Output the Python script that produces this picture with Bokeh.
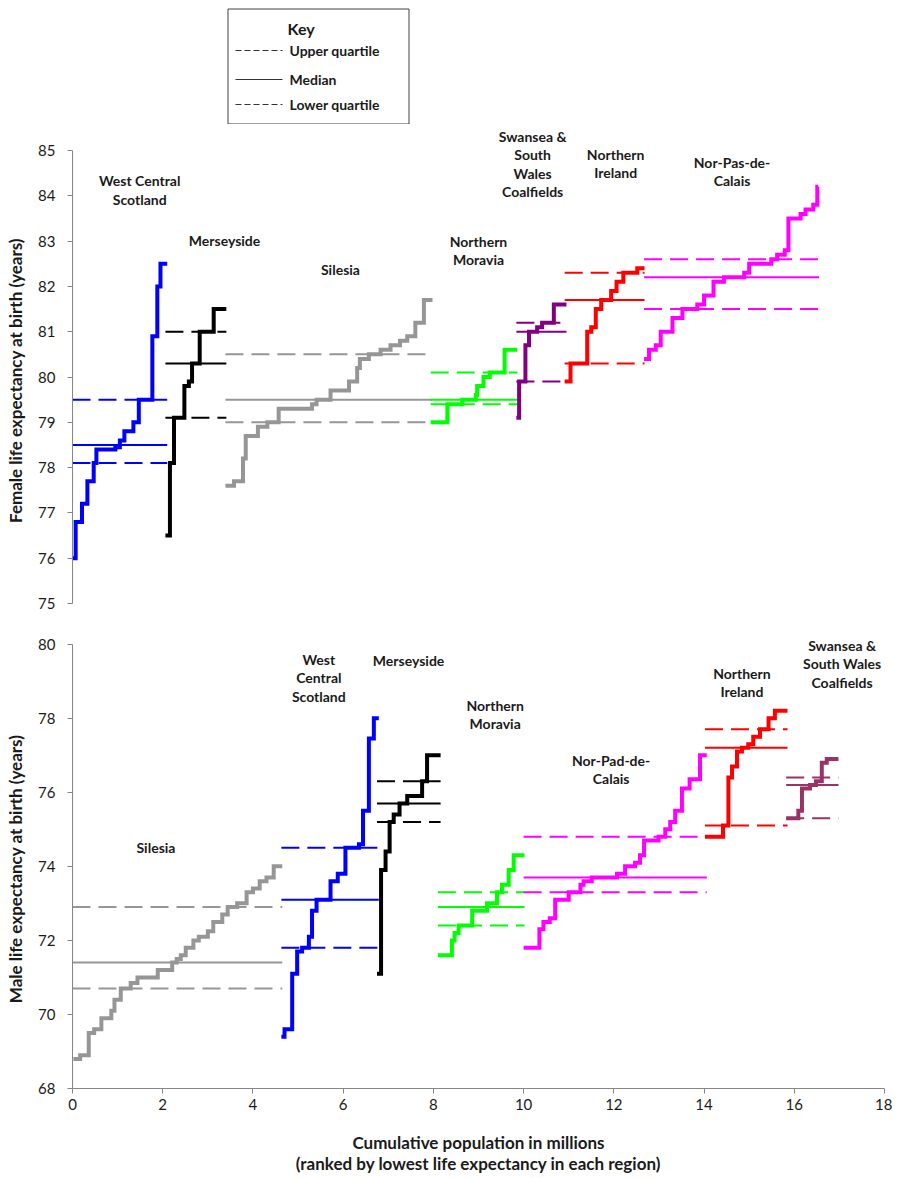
from bokeh.plotting import figure
from bokeh.models import Range1d, FixedTicker, Label
from bokeh.layouts import column
from bokeh.embed import file_html
from bokeh.resources import INLINE
from bokeh.core.properties import value

FONT = "Lato"

# ---------------- Female (top panel) data ----------------
# x: cumulative population (millions) at each step start + final end; le: life expectancy
F_WCS_X = [0.0, 0.07, 0.21, 0.33, 0.47, 0.53, 0.95, 1.05, 1.15, 1.35, 1.47, 1.77, 1.88, 1.95, 2.10]
F_WCS_LE = [76.0, 76.8, 77.2, 77.7, 78.1, 78.4, 78.45, 78.6, 78.8, 79.0, 79.5, 80.9, 82.0, 82.5]
F_MER_X = [2.06, 2.16, 2.25, 2.48, 2.58, 2.65, 2.82, 3.13, 3.41]
F_MER_LE = [76.5, 78.1, 79.1, 79.8, 79.9, 80.3, 81.0, 81.5]
F_SIL_X = [3.39, 3.58, 3.78, 3.84, 4.11, 4.32, 4.57, 5.31, 5.41, 5.72, 6.13, 6.31, 6.37, 6.57, 6.83,
           7.05, 7.26, 7.42, 7.60, 7.79, 7.98]
F_SIL_LE = [77.6, 77.7, 78.2, 78.7, 78.9, 79.0, 79.3, 79.4, 79.5, 79.7, 79.9, 80.2, 80.4, 80.5, 80.6,
            80.7, 80.8, 80.9, 81.2, 81.7]
F_NMO_X = [7.94, 8.31, 8.64, 8.94, 8.97, 9.11, 9.25, 9.58, 9.86]
F_NMO_LE = [79.0, 79.4, 79.5, 79.6, 79.8, 80.0, 80.1, 80.6]
F_SWA_X = [9.84, 9.90, 10.04, 10.12, 10.30, 10.41, 10.67, 10.95]
F_SWA_LE = [79.1, 79.9, 80.7, 81.0, 81.1, 81.2, 81.6]
F_NIR_X = [10.91, 11.04, 11.41, 11.50, 11.60, 11.72, 11.94, 12.06, 12.21, 12.52, 12.68]
F_NIR_LE = [79.9, 80.3, 81.0, 81.1, 81.5, 81.7, 81.9, 82.1, 82.3, 82.4]
F_NPC_X = [12.67, 12.78, 12.93, 13.04, 13.30, 13.52, 13.85, 14.00, 14.21, 14.44, 14.89, 15.00, 15.49,
           15.62, 15.79, 15.87, 16.14, 16.25, 16.42, 16.51, 16.53]
F_NPC_LE = [80.4, 80.6, 80.7, 81.0, 81.3, 81.5, 81.6, 81.8, 82.1, 82.2, 82.3, 82.5, 82.6, 82.7, 82.8,
            83.5, 83.6, 83.7, 83.8, 84.2]

# quartiles per female region: WCS, MER, SIL, NMO, SWA, NIR, NPC
F_Q_START = [0.0, 2.06, 3.39, 7.94, 9.84, 10.91, 12.67]
F_Q_END = [2.10, 3.41, 7.98, 9.86, 10.95, 12.68, 16.55]
F_UPPER = [79.5, 81.0, 80.5, 80.1, 81.2, 82.3, 82.6]
F_MEDIAN = [78.5, 80.3, 79.5, 79.5, 81.0, 81.7, 82.2]
F_LOWER = [78.1, 79.1, 79.0, 79.4, 79.9, 80.3, 81.5]
F_COLORS = ["#0000FF", "#000000", "#969696", "#00FF00", "#800080", "#FF0000", "#FF00FF"]

F_LABELS = ["West Central\nScotland", "Merseyside", "Silesia", "Northern\nMoravia",
            "Swansea &\nSouth\nWales\nCoalfields", "Northern\nIreland", "Nor-Pas-de-\nCalais"]
F_LABEL_X = [1.49, 3.37, 5.94, 9.0, 10.2, 12.04, 14.62]
F_LABEL_Y = [84.13, 83.01, 82.37, 82.79, 84.70, 84.72, 84.53]

# ---------------- Male (bottom panel) data ----------------
M_SIL_X = [0.02, 0.17, 0.36, 0.48, 0.64, 0.86, 0.93, 1.07, 1.29, 1.44, 1.89, 2.21, 2.31, 2.40, 2.51,
           2.68, 2.80, 3.00, 3.12, 3.32, 3.44, 3.65, 3.86, 4.00, 4.15, 4.30, 4.46, 4.65]
M_SIL_LE = [68.8, 68.9, 69.5, 69.6, 69.9, 70.1, 70.4, 70.7, 70.85, 71.0, 71.2, 71.4, 71.5, 71.6, 71.8,
            72.0, 72.1, 72.25, 72.5, 72.7, 72.9, 73.0, 73.3, 73.4, 73.6, 73.7, 74.0]
M_WCS_X = [4.63, 4.70, 4.87, 4.98, 5.09, 5.24, 5.31, 5.41, 5.72, 5.88, 6.05, 6.35, 6.44, 6.57, 6.68, 6.79]
M_WCS_LE = [69.4, 69.6, 71.1, 71.7, 71.8, 72.1, 72.8, 73.1, 73.6, 73.8, 74.5, 74.6, 75.5, 77.45, 78.0]
M_MER_X = [6.75, 6.84, 6.94, 7.03, 7.12, 7.25, 7.42, 7.75, 7.86, 8.16]
M_MER_LE = [71.1, 73.9, 74.4, 75.2, 75.4, 75.7, 75.9, 76.3, 77.0]
M_NMO_X = [8.10, 8.41, 8.47, 8.56, 8.86, 9.19, 9.41, 9.52, 9.67, 9.78, 10.02]
M_NMO_LE = [71.6, 72.0, 72.2, 72.4, 72.8, 73.0, 73.3, 73.5, 73.9, 74.3]
M_NPC_X = [10.00, 10.35, 10.44, 10.58, 10.70, 11.00, 11.26, 11.33, 11.51, 12.07, 12.25, 12.47, 12.58,
           12.67, 12.99, 13.14, 13.25, 13.36, 13.51, 13.68, 13.91, 14.06]
M_NPC_LE = [71.8, 72.3, 72.5, 72.6, 73.1, 73.3, 73.5, 73.6, 73.7, 73.8, 74.0, 74.1, 74.3, 74.7, 74.8,
            75.0, 75.2, 75.5, 76.1, 76.35, 77.0]
M_NIR_X = [14.02, 14.42, 14.54, 14.62, 14.73, 14.84, 14.98, 15.09, 15.24, 15.43, 15.57, 15.85]
M_NIR_LE = [74.8, 75.1, 76.4, 76.7, 77.1, 77.2, 77.3, 77.5, 77.7, 78.0, 78.2]
M_SWA_X = [15.82, 16.09, 16.17, 16.35, 16.48, 16.61, 16.72, 16.98]
M_SWA_LE = [75.3, 75.5, 76.1, 76.2, 76.3, 76.8, 76.9]

# quartiles per male region: SIL, WCS, MER, NMO, NPC, NIR, SWA
M_Q_START = [0.0, 4.63, 6.75, 8.10, 10.00, 14.02, 15.82]
M_Q_END = [4.65, 6.79, 8.16, 10.02, 14.06, 15.85, 16.98]
M_UPPER = [72.9, 74.5, 76.3, 73.3, 74.8, 77.7, 76.4]
M_MEDIAN = [71.4, 73.1, 75.7, 72.9, 73.7, 77.2, 76.2]
M_LOWER = [70.7, 71.8, 75.2, 72.4, 73.3, 75.1, 75.3]
M_COLORS = ["#969696", "#0000FF", "#000000", "#00FF00", "#FF00FF", "#FF0000", "#993366"]

M_LABELS = ["Silesia", "West\nCentral\nScotland", "Merseyside", "Northern\nMoravia",
            "Nor-Pad-de-\nCalais", "Northern\nIreland", "Swansea &\nSouth Wales\nCoalfields"]
M_LABEL_X = [1.85, 5.46, 7.45, 9.37, 11.94, 14.84, 17.06]
M_LABEL_Y = [74.5, 79.09, 79.55, 78.1, 76.62, 78.97, 79.47]

F_YTICKS = [75, 76, 77, 78, 79, 80, 81, 82, 83, 84, 85]
M_YTICKS = [68, 70, 72, 74, 76, 78, 80]
XTICKS = [0, 2, 4, 6, 8, 10, 12, 14, 16, 18]

KEY_ITEMS = ["Upper quartile", "Median", "Lower quartile"]
KEY_DASH = ["6 3", "solid", "6 3"]

DASH = "18 8"
AXIS_GREY = "#868686"
TEXT_COL = "#1a1a1a"
W = 892
NB = "\u00a0"


def style_axis(ax, label):
    ax.axis_label = label
    ax.axis_label_text_font = FONT
    ax.axis_label_text_font_style = "bold"
    ax.axis_label_text_font_size = "17px"
    ax.axis_label_text_color = TEXT_COL
    ax.axis_label_text_line_height = 1.0
    ax.major_label_text_font = FONT
    ax.major_label_text_font_size = "15px"
    ax.major_label_text_color = TEXT_COL
    ax.axis_line_color = AXIS_GREY
    ax.major_tick_line_color = AXIS_GREY
    ax.major_tick_out = 5
    ax.major_tick_in = 0
    ax.minor_tick_line_color = None


def draw_panel(p, series, qs, qe, up, med, low, colors, labels, lx, ly):
    for i, c in enumerate(colors):
        p.segment(x0=[qs[i], qs[i]], y0=[up[i], low[i]], x1=[qe[i], qe[i]], y1=[up[i], low[i]],
                  line_color=c, line_width=2, line_dash=DASH)
        p.segment(x0=[qs[i]], y0=[med[i]], x1=[qe[i]], y1=[med[i]], line_color=c, line_width=2)
    for (xs, les), c in zip(series, colors):
        p.step(xs, les + [les[-1]], mode="after", line_width=4, line_color=c, line_join="miter")
    for t, x, y in zip(labels, lx, ly):
        p.add_layout(Label(x=x, y=y, text=t, text_align="center", text_baseline="middle",
                           text_font=FONT, text_font_style="bold", text_font_size="14px",
                           text_color=TEXT_COL, text_line_height=1.07))


# ---------------- Key figure (frame aligned with panels: 72..884 px) ----------------
kf = figure(width=W, height=124, x_range=Range1d(72, 884), y_range=Range1d(124, 0),
            x_axis_location=None, y_axis_location=None, toolbar_location=None,
            output_backend="svg", min_border=0)
kf.outline_line_color = None
kf.grid.visible = False
kf.quad(left=[227.5], right=[408.5], top=[8.5], bottom=[123.5], fill_color=None,
        line_color="#404040", line_width=1)
kf.text(x=[287], y=[28], text=["Key"], text_font=value(FONT), text_font_style="bold",
        text_font_size="16px", text_baseline="middle", text_color=TEXT_COL)
key_y = [50, 79, 104]
for t, yy, d in zip(KEY_ITEMS, key_y, KEY_DASH):
    kf.line(x=[235, 282], y=[yy, yy], line_color="#333333", line_width=1, line_dash=d)
    kf.text(x=[289], y=[yy], text=[t], text_font=value(FONT), text_font_style="bold",
            text_font_size="14px", text_baseline="middle", text_color=TEXT_COL)

# ---------------- Female figure ----------------
pf = figure(width=W, height=496, x_range=Range1d(0, 18), y_range=Range1d(75, 85.574),
            x_axis_location=None, toolbar_location=None, output_backend="svg",
            min_border_left=72, min_border_right=8, min_border_top=0, min_border_bottom=17)
pf.outline_line_color = None
pf.grid.visible = False
pf.yaxis.ticker = FixedTicker(ticks=F_YTICKS)
pf.yaxis.bounds = (75, 85)
style_axis(pf.yaxis[0], "Female life expectancy at birth (years)" + NB * 8)
pf.yaxis.major_label_standoff = 12
pf.yaxis.axis_label_standoff = 9
draw_panel(pf,
           [(F_WCS_X, F_WCS_LE), (F_MER_X, F_MER_LE), (F_SIL_X, F_SIL_LE), (F_NMO_X, F_NMO_LE),
            (F_SWA_X, F_SWA_LE), (F_NIR_X, F_NIR_LE), (F_NPC_X, F_NPC_LE)],
           F_Q_START, F_Q_END, F_UPPER, F_MEDIAN, F_LOWER, F_COLORS, F_LABELS, F_LABEL_X, F_LABEL_Y)

# ---------------- Male figure ----------------
pm = figure(width=W, height=556, x_range=Range1d(0, 18), y_range=Range1d(68, 80.64),
            toolbar_location=None, output_backend="svg",
            min_border_left=72, min_border_right=8, min_border_top=0, min_border_bottom=83)
pm.outline_line_color = None
pm.grid.visible = False
pm.yaxis.ticker = FixedTicker(ticks=M_YTICKS)
pm.yaxis.bounds = (68, 80)
pm.xaxis.ticker = FixedTicker(ticks=XTICKS)
style_axis(pm.yaxis[0], "Male life expectancy at birth (years)" + NB * 7)
style_axis(pm.xaxis[0], "Cumulative population in millions\n(ranked by lowest life expectancy in each region)")
pm.yaxis.major_label_standoff = 12
pm.yaxis.axis_label_standoff = 9
pm.xaxis.major_label_standoff = 5
pm.xaxis.axis_label_standoff = 19
draw_panel(pm,
           [(M_SIL_X, M_SIL_LE), (M_WCS_X, M_WCS_LE), (M_MER_X, M_MER_LE), (M_NMO_X, M_NMO_LE),
            (M_NPC_X, M_NPC_LE), (M_NIR_X, M_NIR_LE), (M_SWA_X, M_SWA_LE)],
           M_Q_START, M_Q_END, M_UPPER, M_MEDIAN, M_LOWER, M_COLORS, M_LABELS, M_LABEL_X, M_LABEL_Y)

layout = column(kf, pf, pm, spacing=0)
open("out.html", "w").write(file_html(layout, INLINE))
